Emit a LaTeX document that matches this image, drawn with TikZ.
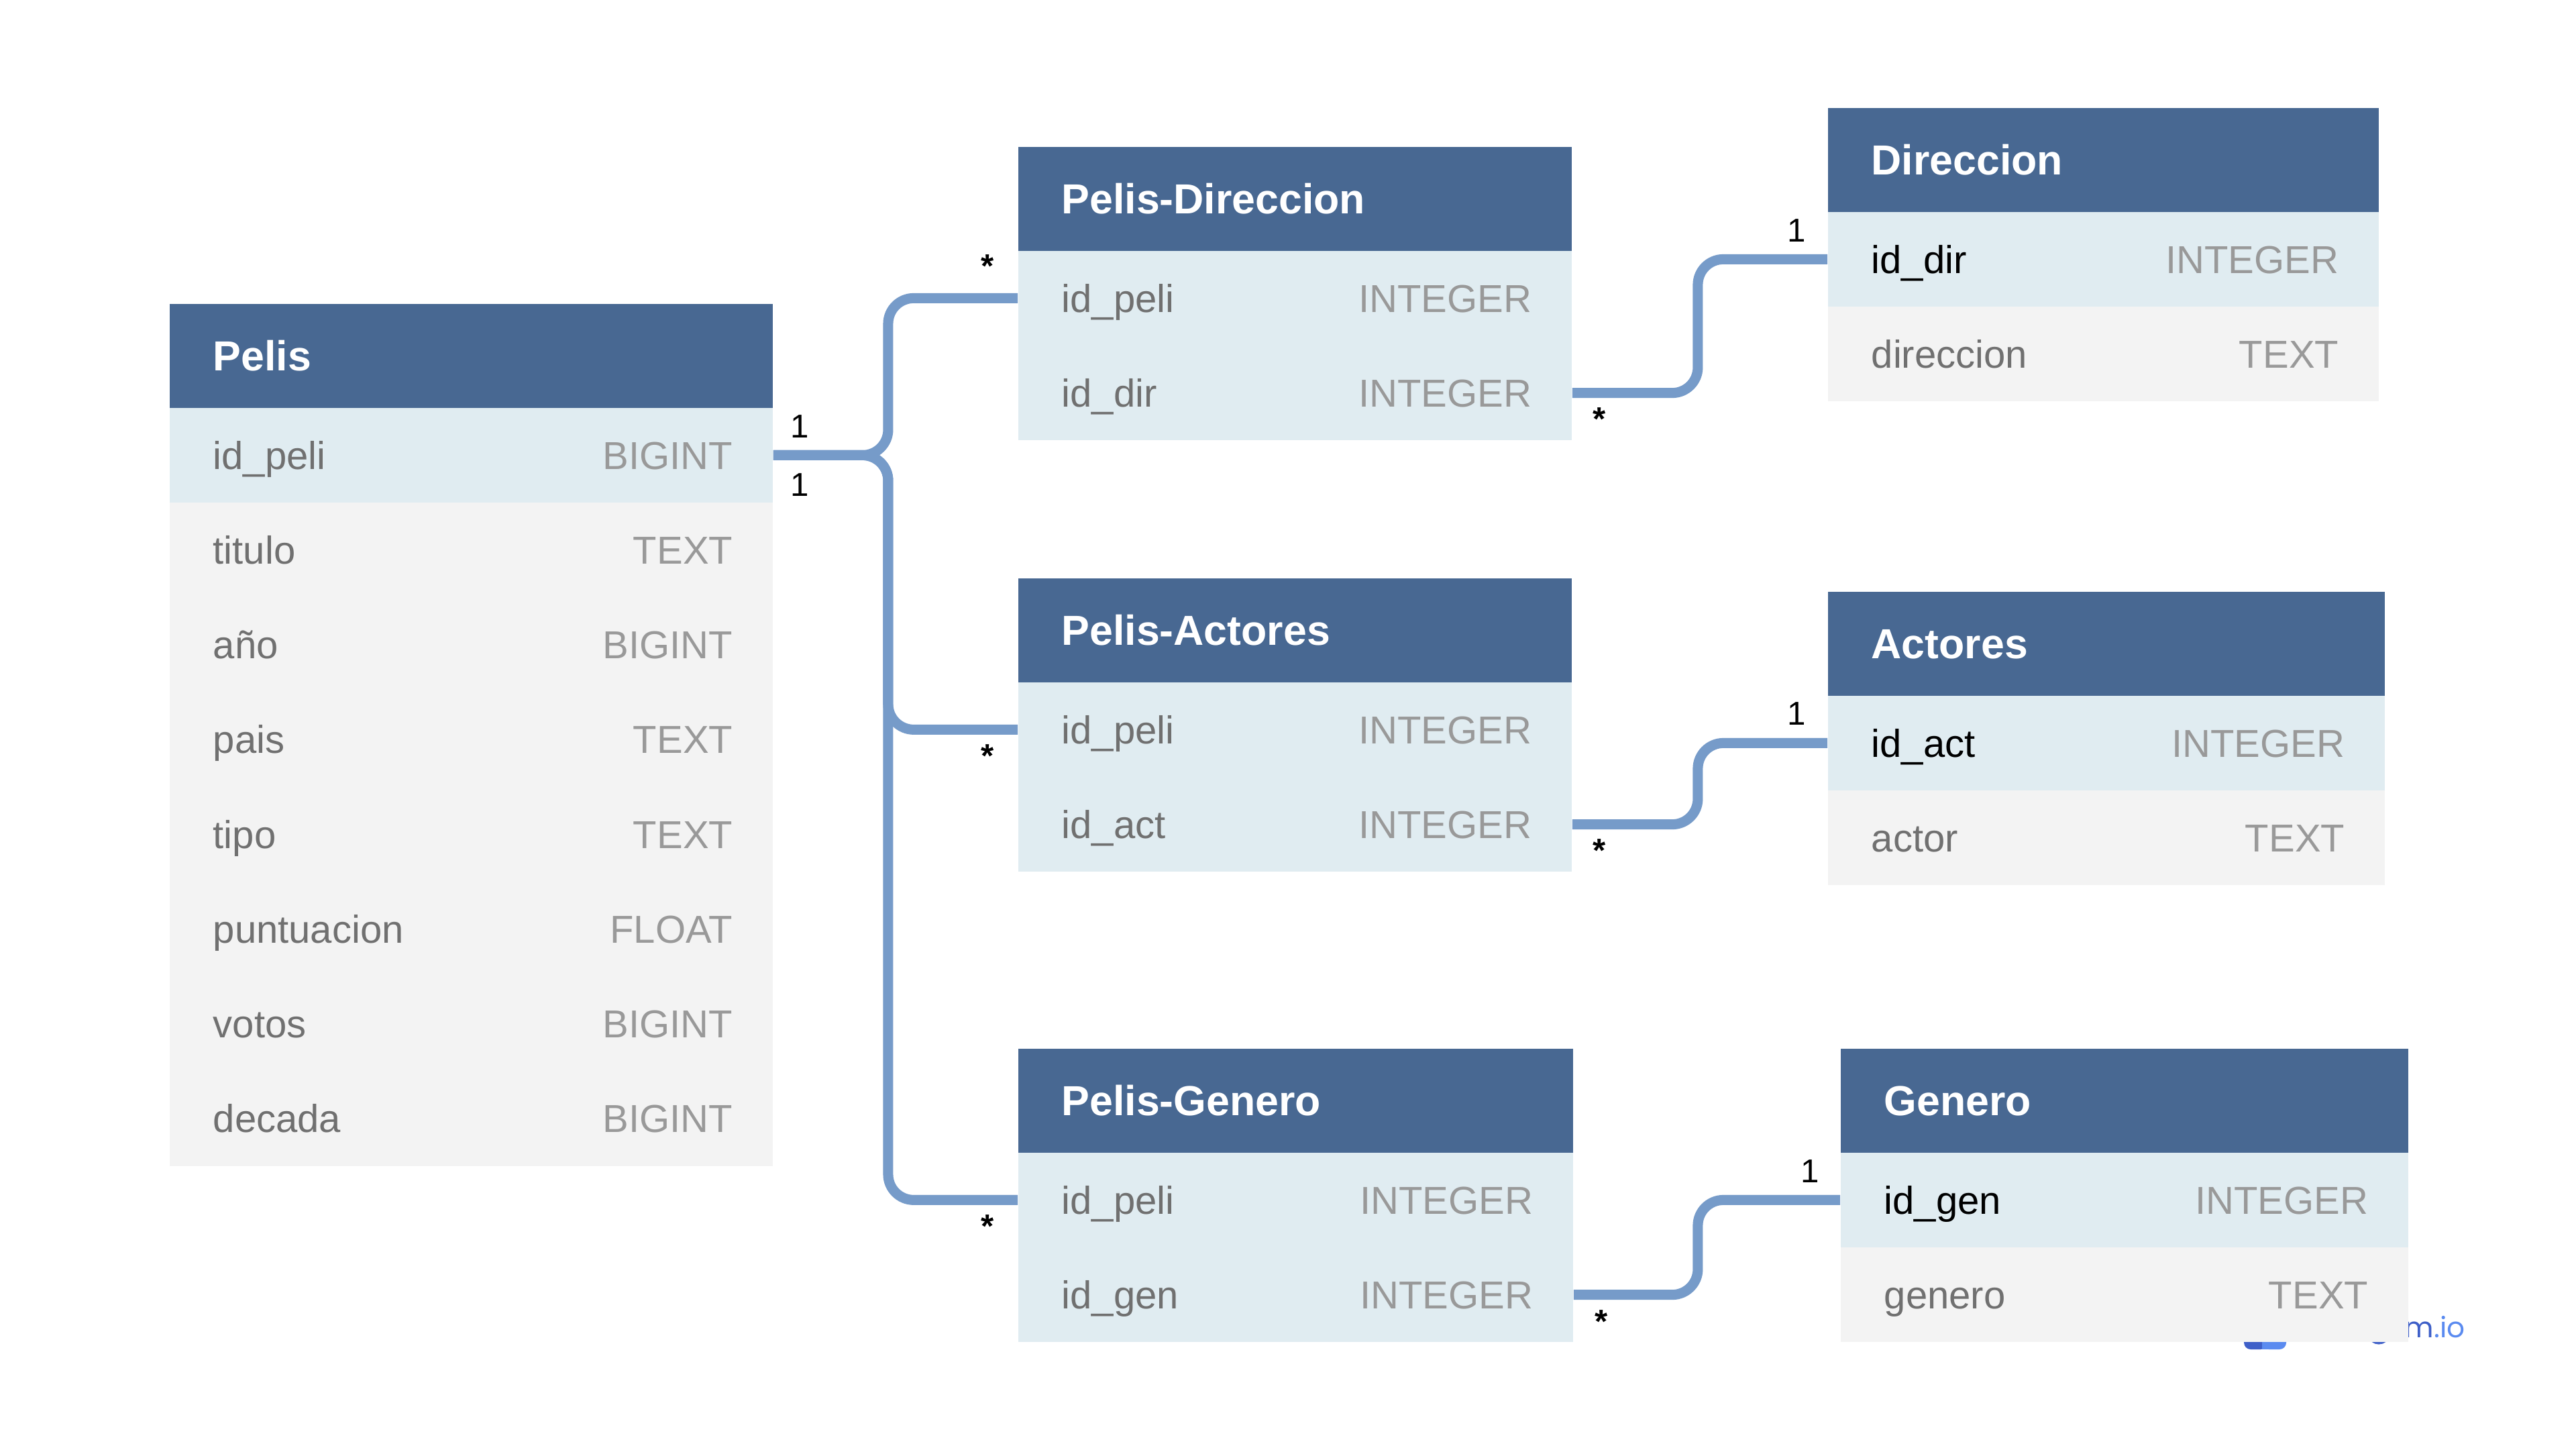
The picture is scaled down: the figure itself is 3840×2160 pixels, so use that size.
\documentclass[tikz,border=0pt]{standalone}
\usepackage{fontspec}
\setmainfont{Liberation Sans}
\newfontfamily\logofont{Poppins}

\definecolor{hdrblue}{RGB}{72,104,146}
\definecolor{keybg}{RGB}{224,236,241}
\definecolor{plainbg}{RGB}{243,243,243}
\definecolor{namegray}{RGB}{112,112,112}
\definecolor{nameblack}{RGB}{0,0,0}
\definecolor{typegray}{RGB}{153,153,153}
\definecolor{relblue}{RGB}{118,155,201}
\definecolor{logodark}{RGB}{62,95,200}
\definecolor{logolight}{RGB}{91,139,240}

\tikzset{
  hdr/.style={rectangle, fill=hdrblue, draw=none, inner sep=0pt,
    minimum height=1.55cm, anchor=north west},
  rowbox/.style={rectangle, draw=none, inner sep=0pt,
    minimum height=1.4125cm, anchor=north west},
  titletext/.style={inner sep=0pt, anchor=base west, text=white,
    font=\fontsize{17.8pt}{20pt}\selectfont\bfseries},
  fieldtext/.style={inner sep=0pt, font=\fontsize{16.5pt}{19pt}\selectfont},
  card/.style={inner sep=0pt, anchor=base, font=\fontsize{14pt}{16pt}\selectfont},
  many/.style={card, font=\fontsize{14pt}{16pt}\selectfont\bfseries},
  rel/.style={draw=relblue, line width=0.15cm, rounded corners=0.38cm},
}

% table: #1 name, #2 left, #3 top, #4 width (cm), #5 title,
% #6 rows as name/type/background/name colour
\newcommand{\ertable}[6]{%
  \node[hdr, minimum width=#4cm] (#1) at (#2,#3) {};
  \node[titletext] (#1-title) at ([xshift=0.65cm,yshift=-0.224cm]#1.west) {#5};
  \foreach \fname/\ftype/\fbg/\fcol [count=\i] in {#6} {
    \node[rowbox, fill=\fbg, minimum width=#4cm] (#1-\i) at (#2,{#3+155+(\i-1)*141.25}) {};
    \node[fieldtext, anchor=base west, text=\fcol] (#1-\i-name)
      at ([xshift=0.65cm,yshift=-0.208cm]#1-\i.west) {\fname};
    \node[fieldtext, anchor=base east, text=typegray] (#1-\i-type)
      at ([xshift=-0.60cm,yshift=-0.208cm]#1-\i.east) {\ftype};
  }%
}

\begin{document}
\begin{tikzpicture}[x=0.01cm, y=-0.01cm]
  \fill[white] (0,0) rectangle (3840,2160);
  \useasboundingbox (0,0) rectangle (3840,2160);

  % watermark, partly covered by the Genero table
  \fill[logodark, rounded corners=0.1cm] (3345,1960) rectangle (3380,2011);
  \fill[logolight, rounded corners=0.1cm] (3372,1960) rectangle (3408,2011);
  \fill[logolight] (3372,1960) rectangle (3385,2011);
  \draw[logodark, line width=0.05cm] (3533,1990) arc[start angle=180, end angle=0, x radius=13, y radius=11];
  \node[inner sep=0pt, anchor=base west, font=\logofont\fontsize{12pt}{14pt}\selectfont]
    (logo) at (3584,1993) {\textcolor{logodark}{m}\textcolor{logolight}{.io}};

  % tables
  \ertable{pelis}{252}{452}{8.99}{Pelis}{
    id\_peli/BIGINT/keybg/namegray,
    titulo/TEXT/plainbg/namegray,
    año/BIGINT/plainbg/namegray,
    pais/TEXT/plainbg/namegray,
    tipo/TEXT/plainbg/namegray,
    puntuacion/FLOAT/plainbg/namegray,
    votos/BIGINT/plainbg/namegray,
    decada/BIGINT/plainbg/namegray}

  \ertable{pd}{1517}{218}{8.25}{Pelis-Direccion}{
    id\_peli/INTEGER/keybg/namegray,
    id\_dir/INTEGER/keybg/namegray}

  \ertable{pa}{1517}{861}{8.25}{Pelis-Actores}{
    id\_peli/INTEGER/keybg/namegray,
    id\_act/INTEGER/keybg/namegray}

  \ertable{pg}{1517}{1562}{8.27}{Pelis-Genero}{
    id\_peli/INTEGER/keybg/namegray,
    id\_gen/INTEGER/keybg/namegray}

  \ertable{dir}{2724}{160}{8.21}{Direccion}{
    id\_dir/INTEGER/keybg/nameblack,
    direccion/TEXT/plainbg/namegray}

  \ertable{act}{2724}{881}{8.30}{Actores}{
    id\_act/INTEGER/keybg/nameblack,
    actor/TEXT/plainbg/namegray}

  \ertable{gen}{2743}{1562}{8.46}{Genero}{
    id\_gen/INTEGER/keybg/nameblack,
    genero/TEXT/plainbg/namegray}

  % relationships
  \draw[rel] (pelis-1.east) -- ++(171,0) |- (pd-1.west);
  \draw[rel] (pelis-1.east) -- ++(171,0) |- (pa-1.west);
  \draw[rel] (pelis-1.east) -- ++(171,0) |- (pg-1.west);
  \draw[rel] (pd-2.east) -- ++(187,0) |- (dir-1.west);
  \draw[rel] (pa-2.east) -- ++(187,0) |- (act-1.west);
  \draw[rel] (pg-2.east) -- ++(185,0) |- (gen-1.west);

  % cardinalities
  \node[card] (k1) at (1192,652) {1};
  \node[card] (k2) at (1192,739) {1};
  \node[many] (m1) at (1472,413) {*};
  \node[many] (m2) at (1472,1143) {*};
  \node[many] (m3) at (1472,1844) {*};
  \node[many] (m4) at (2384,641) {*};
  \node[card] (k3) at (2678,360) {1};
  \node[many] (m5) at (2384,1284) {*};
  \node[card] (k4) at (2678,1080) {1};
  \node[many] (m6) at (2387,1986) {*};
  \node[card] (k5) at (2698,1762) {1};
\end{tikzpicture}
\end{document}
